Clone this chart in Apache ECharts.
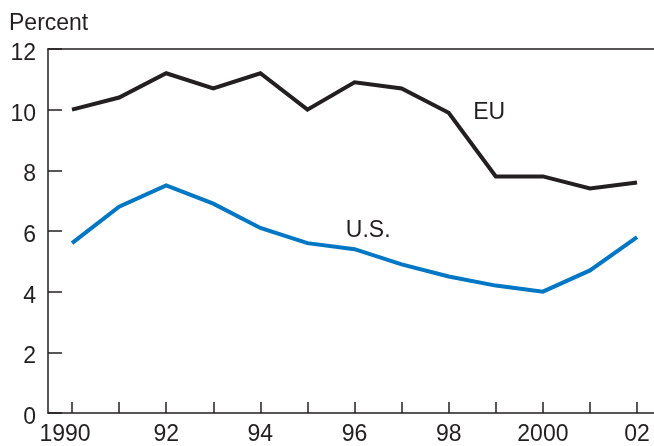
<!DOCTYPE html>
<html><head><meta charset="utf-8">
<script src="https://cdn.jsdelivr.net/npm/echarts@6/dist/echarts.min.js"></script>
<style>html,body{margin:0;padding:0;background:#fff}#c{width:654px;height:446px}</style>
</head><body><div id="c"></div>
<script>
const years = [1990,1991,1992,1993,1994,1995,1996,1997,1998,1999,2000,2001,2002];
const euValues = [10.0,10.4,11.2,10.7,11.2,10.0,10.9,10.7,9.9,7.8,7.8,7.4,7.6];
const usValues = [5.6,6.8,7.5,6.9,6.1,5.6,5.4,4.9,4.5,4.2,4.0,4.7,5.8];
const xLabelYears = [1990,1992,1994,1996,1998,2000,2002];
const xLabelText = ['1990','92','94','96','98','2000','02'];

const ink = '#231f20';
const font = '"Liberation Sans", Arial, sans-serif';
const fs = 23;
const chart = echarts.init(document.getElementById('c'));
chart.setOption({
  animation:false,
  backgroundColor:'#fff',
  title:{text:'Percent', left:9, top:12, padding:0, textStyle:{fontFamily:font, fontSize:fs, fontWeight:'normal', color:ink}},
  grid:{left:48, right:0, top:49, bottom:32, containLabel:false},
  xAxis:[{
    type:'value', min:1989.49, max:2002.36, position:'bottom',
    splitLine:{show:false},
    axisLine:{show:true, lineStyle:{color:ink, width:1.5}},
    axisTick:{show:true, inside:true, length:11, customValues:years, lineStyle:{color:ink, width:1.5}},
    axisLabel:{customValues:xLabelYears, margin:10, fontFamily:font, fontSize:fs, color:ink,
      formatter:v=>{
        const t = xLabelText[xLabelYears.indexOf(Math.round(v))] || '';
        return t === '1990' ? '{first|' + t + '}' : t;
      },
      rich:{first:{fontFamily:font, fontSize:fs, color:ink, padding:[0,14,0,0]}}
    }
  },{
    type:'value', min:1989.49, max:2002.36, position:'top',
    splitLine:{show:false},
    axisLine:{show:true, lineStyle:{color:ink, width:1.5}},
    axisTick:{show:false}, axisLabel:{show:false}
  }],
  yAxis:{
    type:'value', min:0, max:12, interval:2,
    splitLine:{show:false},
    axisLine:{show:true, lineStyle:{color:ink, width:1.5}},
    axisTick:{show:true, inside:true, length:14, lineStyle:{color:ink, width:1.5}},
    axisLabel:{margin:12, fontFamily:font, fontSize:fs, color:ink,
      formatter:v=>'{v|' + v + '}',
      rich:{v:{fontFamily:font, fontSize:fs, color:ink, padding:[9,0,0,0]}}}
  },
  series:[{
    name:'EU', type:'line', xAxisIndex:0, data:years.map((y,i)=>[y,euValues[i]]),
    symbol:'none', lineStyle:{color:ink, width:4, join:'miter'}, itemStyle:{color:ink},
    markPoint:{symbol:'circle', symbolSize:0, silent:true,
      data:[{coord:[1998.86, 9.9], label:{show:true, position:'inside', formatter:'EU', fontFamily:font, fontSize:fs, color:ink}}]}
  },{
    name:'U.S.', type:'line', xAxisIndex:0, data:years.map((y,i)=>[y,usValues[i]]),
    symbol:'none', lineStyle:{color:'#0077c4', width:4, join:'miter'}, itemStyle:{color:'#0077c4'},
    markPoint:{symbol:'circle', symbolSize:0, silent:true,
      data:[{coord:[1996.29, 6.0], label:{show:true, position:'inside', formatter:'U.S.', fontFamily:font, fontSize:fs, color:ink}}]}
  }]
});
</script></body></html>
